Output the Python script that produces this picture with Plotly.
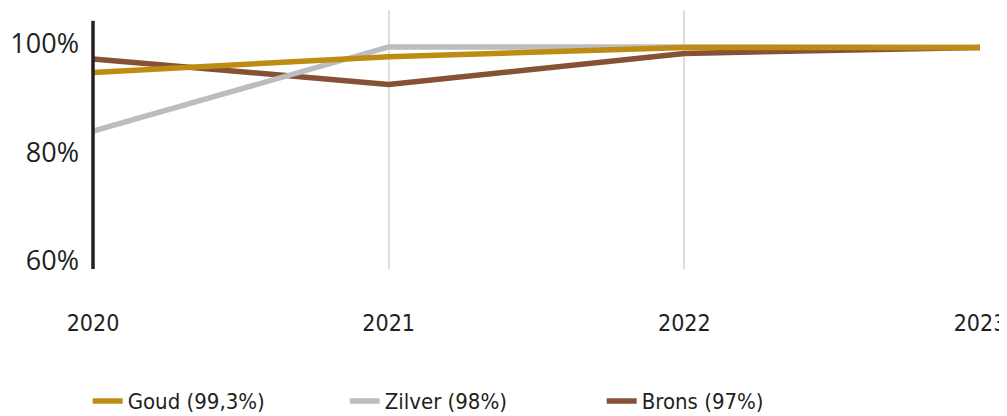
'''
    Line chart: share per medal level, 2020-2023.
'''

import plotly.graph_objects as go

years = ["2020", "2021", "2022", "2023"]
goud = [94.7, 97.6, 99.3, 99.3]
zilver = [83.9, 99.4, 99.4, 99.3]
brons = [97.2, 92.5, 98.2, 99.3]

y_ticks = [60, 80, 100]
y_tick_labels = ["60%", "80%", "100%"]

# drawn bottom to top, legend reversed so Goud comes first
series = [
    ("Brons (97%)", brons, "#875135"),
    ("Zilver (98%)", zilver, "#BCBDC0"),
    ("Goud (99,3%)", goud, "#BE8C12"),
]

fig = go.Figure()
for name, values, colour in series:
    fig.add_trace(go.Scatter(x=years, y=values, name=name, mode="lines",
                             line=dict(color=colour, width=5.5)))

# dark vertical axis line at the left edge of the plot
fig.add_shape(type="line", xref="paper", yref="y", x0=0, x1=0, y0=58.5, y1=104.2,
              line=dict(color="#231F20", width=3.5), layer="above")

narrow = "DejaVu Sans Condensed"

fig.update_layout(
    width=1007, height=416,
    margin=dict(l=82, r=35, t=2, b=154),
    plot_bgcolor="white", paper_bgcolor="white",
    font=dict(family="Open Sans", color="#231F20"),
    showlegend=True,
    legend=dict(orientation="h", traceorder="reversed",
                x=-0.006, xanchor="left", y=-0.51, yanchor="middle",
                font=dict(family=narrow, size=22, color="#231F20"),
                entrywidth=212, entrywidthmode="pixels"),
)
fig.update_xaxes(type="category", range=[0, 3], showgrid=True,
                 gridcolor="#DEDEDE", gridwidth=1.5, zeroline=False,
                 showline=False, ticks="", ticklabelstandoff=38,
                 tickfont=dict(family=narrow, size=23, color="#231F20"))
fig.update_yaxes(range=[58.5, 106.2], tickvals=y_ticks, ticktext=y_tick_labels,
                 showgrid=False, zeroline=False, showline=False, ticks="",
                 ticklabelstandoff=13,
                 tickfont=dict(family="Open Sans", size=27, color="#231F20"))

fig.write_html("out.html")
